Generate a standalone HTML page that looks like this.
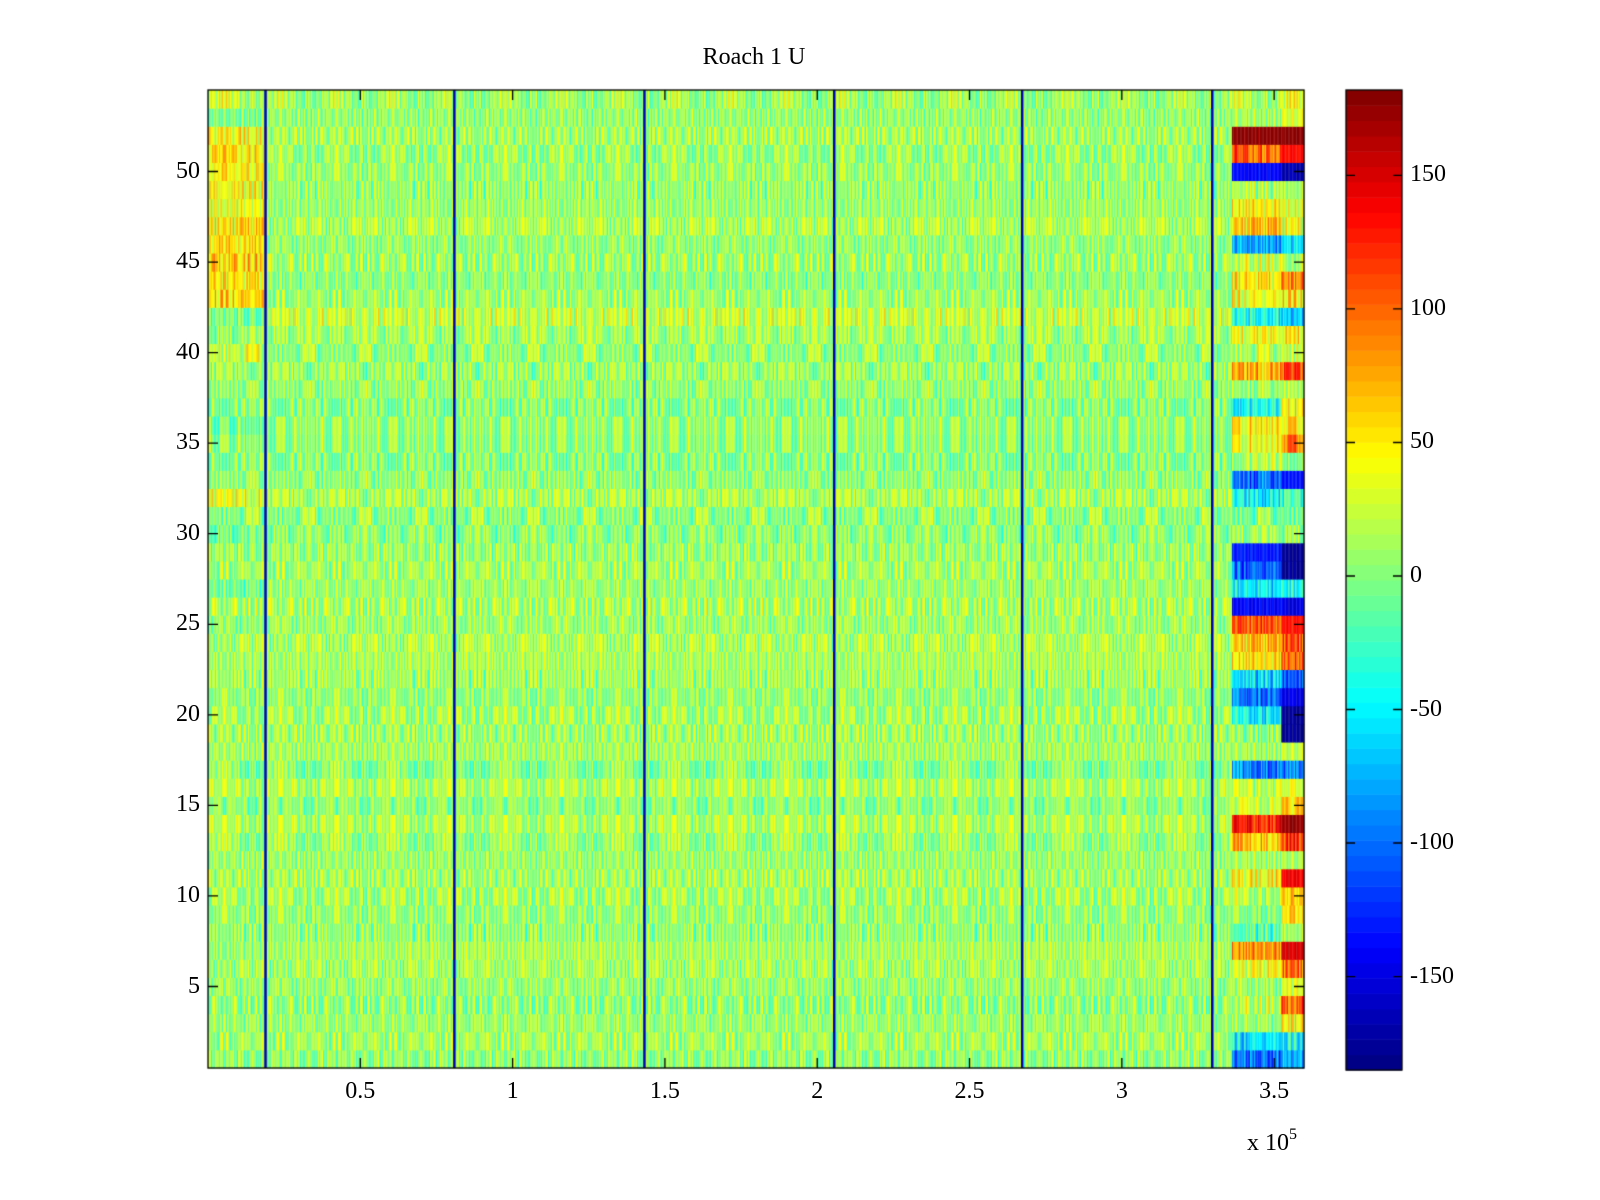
<!DOCTYPE html>
<html><head><meta charset="utf-8">
<style>
body{margin:0;background:#fff;width:1600px;height:1200px;overflow:hidden;position:relative;font-family:"Liberation Serif",serif;}
.t{position:absolute;font-size:24px;color:#000;white-space:nowrap;}
canvas{position:absolute;left:0;top:0;}
</style></head>
<body>
<canvas id="c" width="1600" height="1200"></canvas>
<div id="labels"></div>
<script>
// rows 1..54 (bottom to top)
const rowBase = [5,8,10,4,8,5,10,2,6,8,10,6,10,8,5,8,4,10,8,8,5,8,10,8,10,12,10,8,8,4,8,10,6,4,8,10,4,8,4,10,12,24,6,4,10,6,8,4,4,8,4,10,4,12];
const seg0 = [5,8,10,4,8,5,5,2,6,8,10,8,10,8,5,8,4,10,8,8,5,8,10,8,5,12,-5,8,8,-5,8,30,8,5,8,-5,5,8,5,30,8,-5,55,55,60,55,50,35,40,45,50,40,-5,25];
const block = [-100,-60,10,20,10,30,80,-20,0,15,40,10,70,120,30,15,-90,10,0,-50,-100,-60,50,60,110,-140,-50,-110,-130,10,0,-50,-100,20,40,50,-40,10,70,20,40,-40,35,55,25,-80,60,45,15,-140,100,180,10,20];
const tail = [-80,-50,50,100,30,100,150,10,50,50,140,10,110,170,60,20,-100,20,-180,-180,-150,-110,100,110,130,-150,-40,-180,-180,10,0,-30,-130,10,100,60,60,20,110,30,50,-70,50,90,10,-60,40,30,10,-170,130,180,30,30];
const stripeX = [0.188,0.808,1.432,2.055,2.672,3.296];
const xTicks = [0.5,1,1.5,2,2.5,3,3.5];
const yTicks = [5,10,15,20,25,30,35,40,45,50];
const cTicks = [-150,-100,-50,0,50,100,150];
const jitter = [18,-22,5,30,-12,-34,8,24,-5,-18,38,-8,12,-30,2,20,-15,28,-3,-24,15,-10,26,-36,6,-14,32,-6,10,-28,22,-2,-16,16,-40,4,14,-20,40,-11,27];

const PX0=208,PX1=1304,PY0=90,PY1=1068;
const XMIN=0,XMAX=3.598,YMIN=0.5,YMAX=54.5;
const sx=v=>PX0+(v-XMIN)/(XMAX-XMIN)*(PX1-PX0);
const sy=v=>PY1-(v-YMIN)/(YMAX-YMIN)*(PY1-PY0);
const CMIN=-185,CMAX=182,CX0=1346,CX1=1402,CY0=90,CY1=1070;
const cy=v=>CY1-(v-CMIN)/(CMAX-CMIN)*(CY1-CY0);

function jet(v){
  let t=(v-CMIN)/(CMAX-CMIN);t=Math.max(0,Math.min(0.9999,t));
  t=(Math.floor(t*64)+0.5)/64;
  const f=x=>Math.max(0,Math.min(1,x));
  const r=f(1.5-Math.abs(4*t-3)),g=f(1.5-Math.abs(4*t-2)),b=f(1.5-Math.abs(4*t-1));
  return `rgb(${Math.round(r*255)},${Math.round(g*255)},${Math.round(b*255)})`;
}
const ctx=document.getElementById('c').getContext('2d');
const dx=0.0045;
for(let r=0;r<54;r++){
  const y0=sy(r+1.5),y1=sy(r+0.5);
  let ci=0;
  for(let x=0;x<XMAX;x+=dx,ci++){
    let v;
    if(x>=3.52) v=tail[r]; else if(x>=3.36) v=block[r]; else if(x<0.19) v=seg0[r]; else v=rowBase[r];
    const j=jitter[(ci*ci*7+ci*3+r*r*13+r*5)%jitter.length];
    v+=j*(Math.abs(v)>120?0.3:1);
    ctx.fillStyle=jet(v);
    const xa=sx(x),xb=Math.min(PX1,sx(x+dx));
    ctx.fillRect(xa,y0,xb-xa+0.3,y1-y0+0.5);
  }
}
ctx.fillStyle=jet(-165);
stripeX.forEach(s=>{ctx.fillRect(sx(s)-1,PY0,2.5,PY1-PY0);});
ctx.strokeStyle='#000';ctx.lineWidth=1.3;
ctx.strokeRect(PX0,PY0,PX1-PX0,PY1-PY0);
ctx.beginPath();
xTicks.forEach(t=>{const x=sx(t);ctx.moveTo(x,PY1);ctx.lineTo(x,PY1-10);ctx.moveTo(x,PY0);ctx.lineTo(x,PY0+10);});
yTicks.forEach(t=>{const y=sy(t);ctx.moveTo(PX0,y);ctx.lineTo(PX0+10,y);ctx.moveTo(PX1,y);ctx.lineTo(PX1-10,y);});
ctx.stroke();
// colorbar
for(let i=0;i<64;i++){
  const a=CMIN+(CMAX-CMIN)*i/64,b=CMIN+(CMAX-CMIN)*(i+1)/64;
  ctx.fillStyle=jet((a+b)/2);
  ctx.fillRect(CX0,cy(b),CX1-CX0,cy(a)-cy(b)+0.5);
}
ctx.strokeRect(CX0,CY0,CX1-CX0,CY1-CY0);
ctx.beginPath();
cTicks.forEach(t=>{const y=cy(t);ctx.moveTo(CX0,y);ctx.lineTo(CX0+9,y);ctx.moveTo(CX1,y);ctx.lineTo(CX1-9,y);});
ctx.stroke();

const L=document.getElementById('labels');
function lab(txt,x,y,align,name){
  const d=document.createElement('div');d.className='t';d.textContent=txt;
  
  
  d.style.top=(y-14)+'px';
  if(align==='c'){d.style.left=(x-60)+'px';d.style.width='120px';d.style.textAlign='center';}
  else if(align==='r'){d.style.left=(x-120)+'px';d.style.width='120px';d.style.textAlign='right';}
  else d.style.left=x+'px';
  L.appendChild(d);
}
xTicks.forEach(t=>lab(String(t),sx(t),1092,'c','x-tick-label'));
yTicks.forEach(t=>lab(String(t),200,sy(t),'r','y-tick-label'));
cTicks.forEach(t=>lab(String(t),1410,cy(t),'l','colorbar-tick-label'));
lab('Roach 1 U',754,58,'c','chart-title');
</script>
<div class="t" style="left:1247px;top:1128px;">x 10<sup style="font-size:16px;position:relative;top:-2px">5</sup></div>
</body></html>
